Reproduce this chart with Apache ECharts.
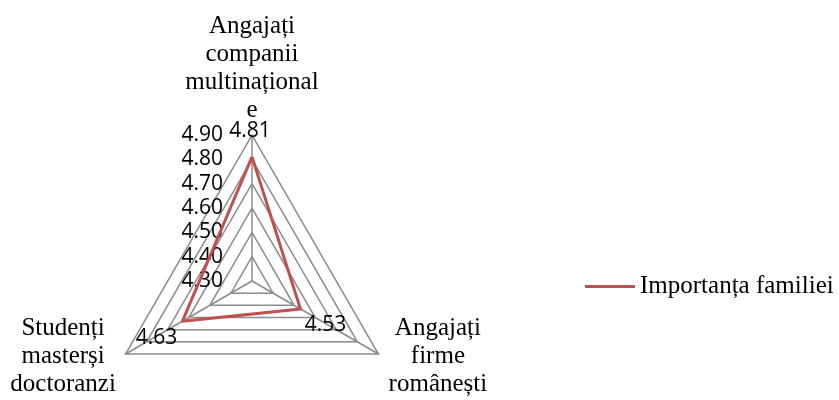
<!DOCTYPE html>
<html>
<head>
<meta charset="utf-8">
<script src="https://cdn.jsdelivr.net/npm/echarts@6/dist/echarts.min.js"></script>
<style>
  html, body { margin: 0; padding: 0; background: #fff; }
  #main { width: 839px; height: 400px; }
</style>
</head>
<body>
<div id="main"></div>
<script>
// date din grafic (ordinea axelor: sus, stanga, dreapta)
var indicatori = ['Angajați\ncompanii\nmultinațional\ne', 'Studenți\nmasterși\ndoctoranzi', 'Angajați\nfirme\nromânești'];
var valori = [4.81, 4.63, 4.53];
var numeSerie = 'Importanța familiei';
var scalaMin = 4.3, scalaMax = 4.9;

var rosu = '#C0504D', gri = '#8c8c8c';
var fontNum = '"Open Sans", "DejaVu Sans", sans-serif';
var fontText = '"Liberation Serif", "Times New Roman", serif';

var myChart = echarts.init(document.getElementById('main'));

// pozitia etichetelor de valoare, cate una pe fiecare varf
var offsets = [[-2, -26], [-26, 17], [25, 16]];

var dateEtichete = valori.map(function (v, k) {
    return {
        value: valori,
        symbol: 'circle',
        symbolSize: 1,
        itemStyle: { color: 'rgba(0,0,0,0)' },
        lineStyle: { opacity: 0 },
        label: {
            show: true,
            position: 'inside',
            offset: offsets[k],
            color: '#000',
            fontFamily: fontNum,
            fontSize: 21,
            formatter: function (p) {
                return p.value === valori[k] ? p.value.toFixed(2) : '';
            }
        }
    };
});

var option = {
    animation: false,
    legend: {
        orient: 'vertical',
        left: 580,
        top: 269,
        data: [numeSerie],
        icon: 'rect',
        itemWidth: 50,
        itemHeight: 3,
        textStyle: { fontFamily: fontText, fontSize: 25, color: '#000' }
    },
    radar: {
        center: [252, 281],
        radius: 146,
        shape: 'polygon',
        splitNumber: 6,
        startAngle: 90,
        axisName: { color: '#000', fontFamily: fontText, fontSize: 25, lineHeight: 28 },
        axisLine: { lineStyle: { color: gri, width: 1.5 } },
        splitLine: { lineStyle: { color: gri, width: 1.5 } },
        splitArea: { show: false },
        axisTick: { show: false },
        axisLabel: { show: false },
        indicator: [
            {
                name: indicatori[0], min: scalaMin, max: scalaMax, nameGap: 10,
                nameTextStyle: { align: 'center', verticalAlign: 'bottom' },
                axisLabel: {
                    show: true, margin: 29, color: '#000', fontFamily: fontNum, fontSize: 21,
                    formatter: function (v) { return v.toFixed(2); }
                }
            },
            {
                name: '{c|' + indicatori[1] + '}', min: scalaMin, max: scalaMax, nameGap: 4,
                nameTextStyle: {
                    align: 'right', verticalAlign: 'middle',
                    rich: { c: { width: 118, align: 'center', fontFamily: fontText, fontSize: 25, lineHeight: 28, color: '#000' } }
                }
            },
            {
                name: '{c|' + indicatori[2] + '}', min: scalaMin, max: scalaMax, nameGap: 4,
                nameTextStyle: {
                    align: 'left', verticalAlign: 'middle',
                    rich: { c: { width: 112, align: 'center', fontFamily: fontText, fontSize: 25, lineHeight: 28, color: '#000' } }
                }
            }
        ]
    },
    series: [{
        type: 'radar',
        data: [{
            name: numeSerie,
            value: valori,
            symbol: 'none',
            itemStyle: { color: rosu },
            lineStyle: { color: rosu, width: 3 }
        }].concat(dateEtichete)
    }]
};

myChart.setOption(option);
</script>
</body>
</html>
